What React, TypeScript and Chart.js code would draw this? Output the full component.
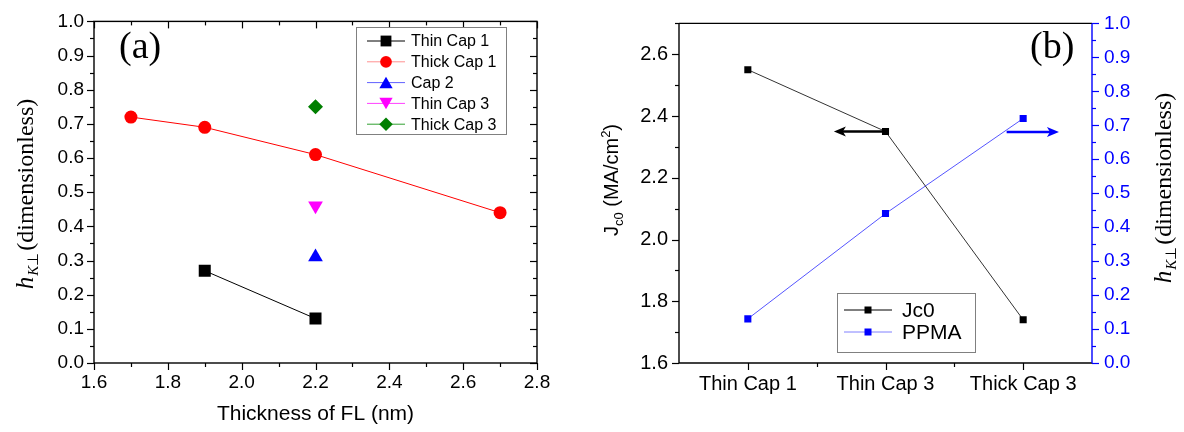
import React, { useEffect, useRef } from "react";
import { Chart, registerables } from "chart.js";

Chart.register(...registerables);

// ---------- Panel (a) data ----------
const thinCap1Thickness = [1.9, 2.2];
const thinCap1H = [0.27, 0.13];
const thickCap1Thickness = [1.7, 1.9, 2.2, 2.7];
const thickCap1H = [0.72, 0.69, 0.61, 0.44];
const cap2Thickness = [2.2];
const cap2H = [0.31];
const thinCap3Thickness = [2.2];
const thinCap3H = [0.46];
const thickCap3Thickness = [2.2];
const thickCap3H = [0.75];
const thicknessTicks = [1.6, 1.8, 2.0, 2.2, 2.4, 2.6, 2.8];
const hTicks = [0, 0.1, 0.2, 0.3, 0.4, 0.5, 0.6, 0.7, 0.8, 0.9, 1.0];

// ---------- Panel (b) data ----------
const capCategories = ["Thin Cap 1", "Thin Cap 3", "Thick Cap 3"];
const jc0Values = [2.55, 2.35, 1.74];
const ppmaValues = [0.13, 0.44, 0.72];
const jcTicks = [1.6, 1.8, 2.0, 2.2, 2.4, 2.6];
// arrows (category index range, value)
const jcArrowFromTo = [0.98, 0.625];
const jcArrowValue = 2.35;
const hArrowFromTo = [1.88, 2.26];
const hArrowValue = 0.68;

const SANS = "'Liberation Sans', Arial, Helvetica, sans-serif";
const SERIF = "'Liberation Serif', 'Times New Roman', serif";
const BLUE = "#0000ff";

const pts = (xs: number[], ys: number[]) => xs.map((x, i) => ({ x, y: ys[i] }));

type Series = {
  label: string;
  xs: number[];
  ys: number[];
  color: string;
  legendLine: string;
  style: string;
  radius: number;
  rotation?: number;
};

const leftSeries: Series[] = [
  { label: "Thin Cap 1", xs: thinCap1Thickness, ys: thinCap1H, color: "#000000", legendLine: "#000000", style: "rect", radius: 8.5 },
  { label: "Thick Cap 1", xs: thickCap1Thickness, ys: thickCap1H, color: "#ff0000", legendLine: "#ff9090", style: "circle", radius: 6.5 },
  { label: "Cap 2", xs: cap2Thickness, ys: cap2H, color: "#0000ff", legendLine: "#6060ff", style: "triangle", radius: 8.5 },
  { label: "Thin Cap 3", xs: thinCap3Thickness, ys: thinCap3H, color: "#ff00ff", legendLine: "#ff40ff", style: "triangle", radius: 8.5, rotation: 180 },
  { label: "Thick Cap 3", xs: thickCap3Thickness, ys: thickCap3H, color: "#007f00", legendLine: "#30a030", style: "rectRot", radius: 7.5 },
];

function line(ctx: CanvasRenderingContext2D, x1: number, y1: number, x2: number, y2: number) {
  ctx.beginPath();
  ctx.moveTo(x1, y1);
  ctx.lineTo(x2, y2);
  ctx.stroke();
}

function marker(ctx: CanvasRenderingContext2D, style: string, x: number, y: number, r: number, color: string, rotation = 0) {
  ctx.save();
  ctx.fillStyle = color;
  ctx.beginPath();
  if (style === "rect") {
    const s = Math.SQRT1_2 * r;
    ctx.rect(x - s, y - s, 2 * s, 2 * s);
  } else if (style === "circle") {
    ctx.arc(x, y, r, 0, Math.PI * 2);
  } else if (style === "triangle") {
    const rad = (rotation * Math.PI) / 180;
    for (let k = 0; k < 3; k++) {
      const a = rad + (k * 2 * Math.PI) / 3;
      const px = x + Math.sin(a) * r;
      const py = y - Math.cos(a) * r * 1.0;
      if (k === 0) ctx.moveTo(px, py + (rotation ? -r * 0.25 : r * 0.25));
      else ctx.lineTo(px, py + (rotation ? -r * 0.25 : r * 0.25));
    }
    ctx.closePath();
  } else if (style === "rectRot") {
    ctx.moveTo(x, y - r);
    ctx.lineTo(x + r, y);
    ctx.lineTo(x, y + r);
    ctx.lineTo(x - r, y);
    ctx.closePath();
  }
  ctx.fill();
  ctx.restore();
}

type Part = { text: string; font: string; dy: number; gap?: number };

function rotatedRich(ctx: CanvasRenderingContext2D, parts: Part[], baseX: number, cy: number, color: string) {
  ctx.save();
  ctx.fillStyle = color;
  ctx.textBaseline = "alphabetic";
  ctx.textAlign = "left";
  let total = 0;
  const widths = parts.map((p) => {
    ctx.font = p.font;
    const w = ctx.measureText(p.text).width + (p.gap || 0);
    total += w;
    return w;
  });
  ctx.translate(baseX, cy);
  ctx.rotate(-Math.PI / 2);
  let u = -total / 2;
  parts.forEach((p, i) => {
    ctx.font = p.font;
    ctx.fillText(p.text, u, p.dy);
    u += widths[i];
  });
  ctx.restore();
}

const hTitleParts: Part[] = [
  { text: "h", font: `italic 25px ${SERIF}`, dy: 0, gap: 1 },
  { text: "K", font: `italic 15px ${SERIF}`, dy: 5 },
  { text: "\u22A5", font: `15px ${SERIF}`, dy: 5, gap: 2 },
  { text: "(dimensionless)", font: `24px ${SERIF}`, dy: 0 },
];

const leftDecor = {
  id: "leftDecor",
  afterDraw(chart: any) {
    const { ctx, chartArea: a, scales } = chart;
    const x = scales.x;
    const y = scales.y;
    ctx.save();
    ctx.strokeStyle = "#000";
    ctx.lineWidth = 1.4;
    ctx.strokeRect(a.left, a.top, a.right - a.left, a.bottom - a.top);
    ctx.lineWidth = 1.2;
    const xMin = thicknessTicks[0];
    for (let i = 0; i <= 12; i++) {
      const px = Math.round(x.getPixelForValue(xMin + i * 0.1)) + 0.5;
      const len = i % 2 === 0 ? 7 : 4;
      line(ctx, px, a.bottom, px, a.bottom + len);
      line(ctx, px, a.top, px, a.top + len);
    }
    for (let i = 0; i <= 20; i++) {
      const py = Math.round(y.getPixelForValue(i * 0.05)) + 0.5;
      const len = i % 2 === 0 ? 7 : 4;
      line(ctx, a.left, py, a.left - len, py);
      line(ctx, a.right, py, a.right - len, py);
    }
    // legend
    const bx = 356, by = 27, bw = 150, bh = 107;
    ctx.fillStyle = "#fff";
    ctx.fillRect(bx, by, bw, bh);
    ctx.strokeStyle = "#808080";
    ctx.lineWidth = 1;
    ctx.strokeRect(bx + 0.5, by + 0.5, bw, bh);
    leftSeries.forEach((s, i) => {
      const ry = 41 + i * 20.8;
      ctx.strokeStyle = s.legendLine;
      ctx.lineWidth = 1;
      line(ctx, 367, ry, 405, ry);
      marker(ctx, s.style, 386, ry, s.radius * 0.9, s.color, s.rotation || 0);
      ctx.fillStyle = "#000";
      ctx.font = `16px ${SANS}`;
      ctx.textBaseline = "middle";
      ctx.textAlign = "left";
      ctx.fillText(s.label, 411, ry + 1);
    });
    // panel label
    ctx.fillStyle = "#000";
    ctx.font = `38px ${SERIF}`;
    ctx.textBaseline = "alphabetic";
    ctx.fillText("(a)", 119, 58);
    ctx.restore();
    rotatedRich(ctx, hTitleParts, 33, 194, "#000");
  },
};

const rightDecor = {
  id: "rightDecor",
  afterDraw(chart: any) {
    const { ctx, chartArea: a, scales } = chart;
    const x = scales.x;
    const y = scales.y;
    const y1 = scales.y1;
    ctx.save();
    ctx.lineWidth = 1.4;
    ctx.strokeStyle = "#000";
    line(ctx, a.left, a.top, a.right, a.top);
    line(ctx, a.left, a.top, a.left, a.bottom);
    line(ctx, a.left, a.bottom, a.right, a.bottom);
    ctx.strokeStyle = BLUE;
    line(ctx, a.right, a.top, a.right, a.bottom);
    ctx.lineWidth = 1.2;
    ctx.strokeStyle = "#000";
    for (let i = 0; i <= 4; i++) {
      const px = Math.round(x.getPixelForValue(i * 0.5)) + 0.5;
      const len = i % 2 === 0 ? 7 : 4;
      line(ctx, px, a.bottom, px, a.bottom + len);
    }
    for (let i = 0; i <= 11; i++) {
      const v = jcTicks[0] + i * 0.1;
      const py = Math.round(y.getPixelForValue(v)) + 0.5;
      const len = i % 2 === 0 ? 7 : 4;
      line(ctx, a.left, py, a.left - len, py);
    }
    ctx.strokeStyle = BLUE;
    for (let i = 0; i <= 20; i++) {
      const py = Math.round(y1.getPixelForValue(i * 0.05)) + 0.5;
      const len = i % 2 === 0 ? 7 : 4;
      line(ctx, a.right, py, a.right + len, py);
    }
    // arrows
    const arrow = (x0: number, x1: number, py: number, color: string) => {
      ctx.strokeStyle = color;
      ctx.fillStyle = color;
      ctx.lineWidth = 2.6;
      const dir = Math.sign(x1 - x0);
      line(ctx, x0, py, x1 - dir * 8, py);
      ctx.beginPath();
      ctx.moveTo(x1, py);
      ctx.lineTo(x1 - dir * 12, py - 5);
      ctx.lineTo(x1 - dir * 9, py);
      ctx.lineTo(x1 - dir * 12, py + 5);
      ctx.closePath();
      ctx.fill();
    };
    arrow(
      x.getPixelForValue(jcArrowFromTo[0]),
      x.getPixelForValue(jcArrowFromTo[1]),
      y.getPixelForValue(jcArrowValue),
      "#000"
    );
    arrow(
      x.getPixelForValue(hArrowFromTo[0]),
      x.getPixelForValue(hArrowFromTo[1]),
      y1.getPixelForValue(hArrowValue),
      BLUE
    );
    // legend
    const bx = 245, by = 293, bw = 138, bh = 59;
    ctx.fillStyle = "#fff";
    ctx.fillRect(bx, by, bw, bh);
    ctx.strokeStyle = "#808080";
    ctx.lineWidth = 1;
    ctx.strokeRect(bx + 0.5, by + 0.5, bw, bh);
    const items = [
      { label: "Jc0", line: "#000000", color: "#000000" },
      { label: "PPMA", line: "#8080ff", color: BLUE },
    ];
    items.forEach((it, i) => {
      const ry = 310 + i * 22;
      ctx.strokeStyle = it.line;
      ctx.lineWidth = 1;
      line(ctx, 252, ry, 300, ry);
      ctx.fillStyle = it.color;
      ctx.fillRect(272.5, ry - 3.5, 7, 7);
      ctx.fillStyle = "#000";
      ctx.font = `21px ${SANS}`;
      ctx.textBaseline = "middle";
      ctx.textAlign = "left";
      ctx.fillText(it.label, 310, ry + 1);
    });
    ctx.fillStyle = "#000";
    ctx.font = `38px ${SERIF}`;
    ctx.textBaseline = "alphabetic";
    ctx.fillText("(b)", 438, 58);
    ctx.restore();
    rotatedRich(
      ctx,
      [
        { text: "J", font: `20px ${SANS}`, dy: 0 },
        { text: "c0", font: `13px ${SANS}`, dy: 5 },
        { text: " (MA/cm", font: `20px ${SANS}`, dy: 0 },
        { text: "2", font: `13px ${SANS}`, dy: -8 },
        { text: ")", font: `20px ${SANS}`, dy: 0 },
      ],
      26,
      180,
      "#000"
    );
    rotatedRich(ctx, hTitleParts, 579, 188, "#000");
  },
};

function LeftChart() {
  const ref = useRef<HTMLCanvasElement>(null);
  useEffect(() => {
    const chart = new Chart(ref.current as HTMLCanvasElement, {
      type: "scatter",
      data: {
        datasets: leftSeries.map((s) => ({
          label: s.label,
          data: pts(s.xs, s.ys),
          showLine: s.xs.length > 1,
          borderColor: s.color,
          borderWidth: 1,
          backgroundColor: s.color,
          pointBackgroundColor: s.color,
          pointBorderColor: s.color,
          pointBorderWidth: 0,
          pointStyle: s.style as any,
          pointRadius: s.radius,
          pointRotation: s.rotation || 0,
        })),
      },
      options: {
        responsive: false,
        animation: false,
        devicePixelRatio: 1,
        layout: { padding: { left: 0, top: 15, right: 55, bottom: 0 } },
        plugins: { legend: { display: false }, tooltip: { enabled: false } },
        scales: {
          x: {
            type: "linear",
            min: 1.6,
            max: 2.8,
            afterBuildTicks: (s: any) => {
              s.ticks = thicknessTicks.map((v) => ({ value: v }));
            },
            afterFit: (s: any) => {
              s.height = 69;
            },
            grid: { display: false, drawTicks: false },
            border: { display: false },
            ticks: {
              callback: (v: any) => Number(v).toFixed(1),
              font: { family: SANS, size: 19 },
              color: "#000",
              padding: 8,
              maxRotation: 0,
              autoSkip: false,
            },
            title: {
              display: true,
              text: "Thickness of FL (nm)",
              font: { family: SANS, size: 21 },
              color: "#000",
              padding: { top: 0, bottom: 5 },
            },
          },
          y: {
            type: "linear",
            min: 0,
            max: 1,
            afterBuildTicks: (s: any) => {
              s.ticks = hTicks.map((v) => ({ value: v }));
            },
            afterFit: (s: any) => {
              s.width = 94;
            },
            grid: { display: false, drawTicks: false },
            border: { display: false },
            ticks: {
              callback: (v: any) => Number(v).toFixed(1),
              font: { family: SANS, size: 19 },
              color: "#000",
              padding: 10,
              autoSkip: false,
            },
          },
        },
      },
      plugins: [leftDecor],
    });
    return () => chart.destroy();
  }, []);
  return <canvas ref={ref} width={592} height={432} style={{ position: "absolute", left: 0, top: 0 }} />;
}

function RightChart() {
  const ref = useRef<HTMLCanvasElement>(null);
  useEffect(() => {
    const chart = new Chart(ref.current as HTMLCanvasElement, {
      type: "line",
      data: {
        labels: capCategories,
        datasets: [
          {
            label: "Jc0",
            data: jc0Values,
            yAxisID: "y",
            borderColor: "#333333",
            borderWidth: 1,
            backgroundColor: "#000",
            pointBackgroundColor: "#000",
            pointBorderWidth: 0,
            pointStyle: "rect",
            pointRadius: 5,
            tension: 0,
          },
          {
            label: "PPMA",
            data: ppmaValues,
            yAxisID: "y1",
            borderColor: "#5555ff",
            borderWidth: 1,
            backgroundColor: BLUE,
            pointBackgroundColor: BLUE,
            pointBorderWidth: 0,
            pointStyle: "rect",
            pointRadius: 5,
            tension: 0,
          },
        ],
      },
      options: {
        responsive: false,
        animation: false,
        devicePixelRatio: 1,
        layout: { padding: { left: 0, top: 15, right: 0, bottom: 0 } },
        plugins: { legend: { display: false }, tooltip: { enabled: false } },
        scales: {
          x: {
            type: "category",
            offset: true,
            afterFit: (s: any) => {
              s.height = 69;
            },
            grid: { display: false, drawTicks: false, offset: true },
            border: { display: false },
            ticks: {
              font: { family: SANS, size: 20 },
              color: "#000",
              padding: 9,
              maxRotation: 0,
              autoSkip: false,
            },
          },
          y: {
            type: "linear",
            position: "left",
            min: 1.6,
            max: 2.7,
            afterBuildTicks: (s: any) => {
              s.ticks = jcTicks.map((v) => ({ value: v }));
            },
            afterFit: (s: any) => {
              s.width = 87;
            },
            grid: { display: false, drawTicks: false },
            border: { display: false },
            ticks: {
              callback: (v: any) => Number(v).toFixed(1),
              font: { family: SANS, size: 20 },
              color: "#000",
              padding: 11,
              autoSkip: false,
            },
          },
          y1: {
            type: "linear",
            position: "right",
            min: 0,
            max: 1,
            afterBuildTicks: (s: any) => {
              s.ticks = hTicks.map((v) => ({ value: v }));
            },
            afterFit: (s: any) => {
              s.width = 92;
            },
            grid: { display: false, drawTicks: false },
            border: { display: false },
            ticks: {
              callback: (v: any) => Number(v).toFixed(1),
              font: { family: SANS, size: 19 },
              color: BLUE,
              padding: 12,
              autoSkip: false,
            },
          },
        },
      },
      plugins: [rightDecor],
    });
    return () => chart.destroy();
  }, []);
  return <canvas ref={ref} width={592} height={432} style={{ position: "absolute", left: 592, top: 0 }} />;
}

export default function App() {
  return (
    <div style={{ position: "absolute", left: 0, top: 0, width: 1184, height: 432, background: "#fff", overflow: "hidden" }}>
      <LeftChart />
      <RightChart />
    </div>
  );
}
